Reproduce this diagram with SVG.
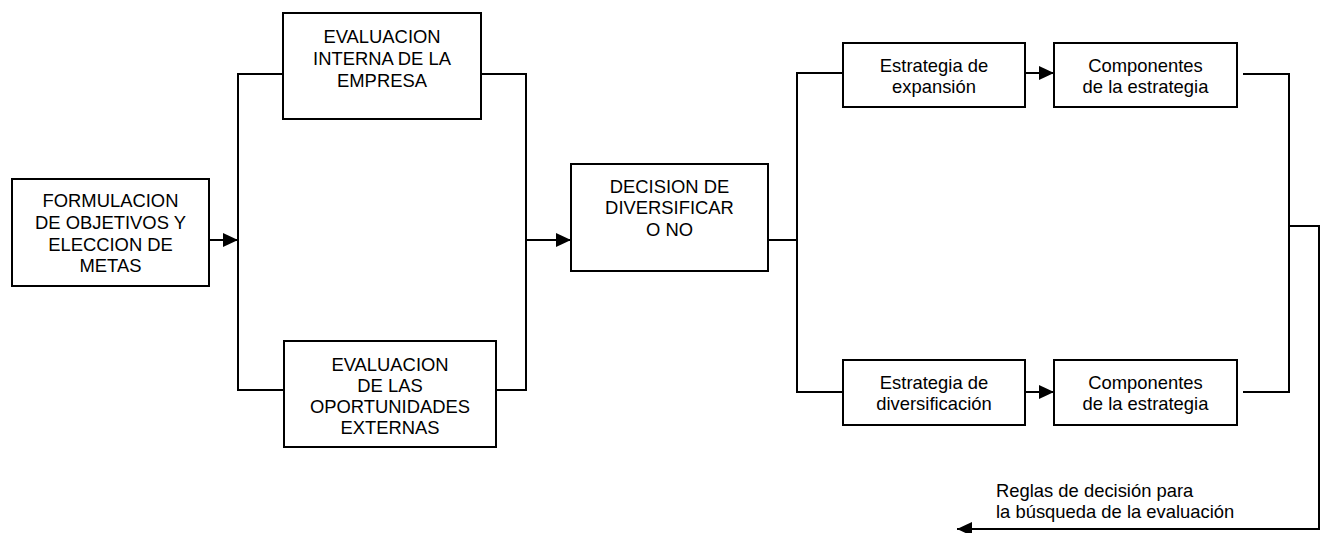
<svg xmlns="http://www.w3.org/2000/svg" width="1323" height="533" viewBox="0 0 1323 533">
<style>
.box{fill:#fff;stroke:#000;stroke-width:2}
.ln{fill:none;stroke:#000;stroke-width:2}
text{font-family:"Liberation Sans",Arial,sans-serif;font-size:18.4px;fill:#000}
.c{text-anchor:middle}
</style>
<defs>
<marker id="ah" markerUnits="userSpaceOnUse" markerWidth="16" markerHeight="14" refX="15" refY="7" orient="auto">
<path d="M0,0 L15,7 L0,14 Z" fill="#000"/>
</marker>
</defs>
<rect width="1323" height="533" fill="#fff"/>
<g id="connectors">
<line class="ln" x1="209" y1="240" x2="238" y2="240" marker-end="url(#ah)"/>
<path class="ln" d="M283,74 H238 V390 H284"/>
<path class="ln" d="M481,74 H526 V390 H496"/>
<line class="ln" x1="526" y1="240" x2="571" y2="240" marker-end="url(#ah)"/>
<path class="ln" d="M768,240 H797"/>
<path class="ln" d="M843,73 H797 V392 H843"/>
<line class="ln" x1="1025" y1="73" x2="1054" y2="73" marker-end="url(#ah)"/>
<line class="ln" x1="1025" y1="392" x2="1054" y2="392" marker-end="url(#ah)"/>
<path class="ln" d="M1243,74 H1289 V392 H1243"/>
<path class="ln" d="M1289,226 H1319 V529 H957" marker-end="url(#ah)"/>
</g>
<g id="n-formulacion">
<rect class="box" x="12" y="179" width="197" height="107"/>
<text class="c" x="110.5" y="207">FORMULACION</text>
<text class="c" x="110.5" y="229">DE OBJETIVOS Y</text>
<text class="c" x="110.5" y="251">ELECCION DE</text>
<text class="c" x="110.5" y="272">METAS</text>
</g>
<g id="n-interna">
<rect class="box" x="283" y="13" width="198" height="106"/>
<text class="c" x="382" y="43">EVALUACION</text>
<text class="c" x="382" y="65">INTERNA DE LA</text>
<text class="c" x="382" y="87">EMPRESA</text>
</g>
<g id="n-externas">
<rect class="box" x="284" y="341" width="212" height="106"/>
<text class="c" x="390" y="371">EVALUACION</text>
<text class="c" x="390" y="392">DE LAS</text>
<text class="c" x="390" y="413">OPORTUNIDADES</text>
<text class="c" x="390" y="434">EXTERNAS</text>
</g>
<g id="n-decision">
<rect class="box" x="571" y="164" width="197" height="107"/>
<text class="c" x="669.5" y="193">DECISION DE</text>
<text class="c" x="669.5" y="214">DIVERSIFICAR</text>
<text class="c" x="669.5" y="236">O NO</text>
</g>
<g id="n-expansion">
<rect class="box" x="843" y="43" width="182" height="64"/>
<text class="c" x="934" y="72">Estrategia de</text>
<text class="c" x="934" y="93">expansión</text>
</g>
<g id="n-comp1">
<rect class="box" x="1054" y="43" width="183" height="64"/>
<text class="c" x="1145.5" y="72">Componentes</text>
<text class="c" x="1145.5" y="93">de la estrategia</text>
</g>
<g id="n-diversificacion">
<rect class="box" x="843" y="360" width="182" height="65"/>
<text class="c" x="934" y="389">Estrategia de</text>
<text class="c" x="934" y="410">diversificación</text>
</g>
<g id="n-comp2">
<rect class="box" x="1054" y="360" width="183" height="65"/>
<text class="c" x="1145.5" y="389">Componentes</text>
<text class="c" x="1145.5" y="410">de la estrategia</text>
</g>
<g id="label-reglas">
<text x="996" y="497">Reglas de decisión para</text>
<text x="996" y="518">la búsqueda de la evaluación</text>
</g>
</svg>
